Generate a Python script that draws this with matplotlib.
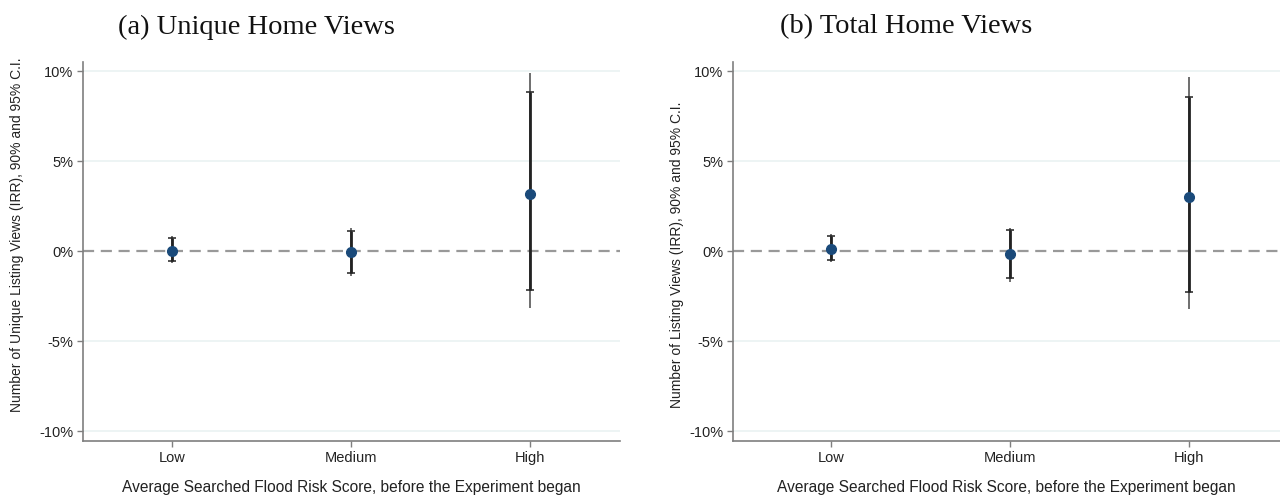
import matplotlib
matplotlib.use("Agg")
import matplotlib.pyplot as plt
import numpy as np

categories = ["Low", "Medium", "High"]

# Panel (a): Unique Home Views (percent)
a_est = [0.0, -0.05, 3.17]
a_lo90 = [-0.55, -1.2, -2.17]
a_hi90 = [0.70, 1.10, 8.82]
a_lo95 = [-0.68, -1.4, -3.17]
a_hi95 = [0.82, 1.30, 9.90]

# Panel (b): Total Home Views (percent)
b_est = [0.10, -0.17, 3.0]
b_lo90 = [-0.50, -1.50, -2.26]
b_hi90 = [0.85, 1.15, 8.54]
b_lo95 = [-0.62, -1.70, -3.22]
b_hi95 = [0.95, 1.30, 9.65]

yticks = [-10, -5, 0, 5, 10]
ytick_labels = ["-10%", "-5%", "0%", "5%", "10%"]

titles = ["(a) Unique Home Views", "(b) Total Home Views"]
ylabels = ["Number of Unique Listing Views (IRR), 90% and 95% C.I.",
           "Number of Listing Views (IRR), 90% and 95% C.I."]
xlabel = "Average Searched Flood Risk Score, before the Experiment began"

plt.rcParams['font.family'] = ['Liberation Sans', 'DejaVu Sans']

W, H = 1280, 498
fig = plt.figure(figsize=(W / 100, H / 100), dpi=100)

def px_axes(x0, x1, y0, y1):
    return fig.add_axes([x0 / W, 1 - y1 / H, (x1 - x0) / W, (y1 - y0) / H])

axes_px = [(83, 620, 62, 441), (733, 1280, 62, 441)]
xlims = [(0.503, 3.503), (0.4525, 3.51)]
data = [(a_est, a_lo90, a_hi90, a_lo95, a_hi95), (b_est, b_lo90, b_hi90, b_lo95, b_hi95)]
title_x = [256, 906]
ylabel_y = [0.545, 0.49]
ylabel_x = [-0.110, -0.090]

grey = "#7f7f7f"
marker_col = "#1a4a7a"
for i in range(2):
    ax = px_axes(*axes_px[i])
    est, lo90, hi90, lo95, hi95 = data[i]
    x = np.arange(1, len(categories) + 1)
    for v in [10, 5, -5, -10]:
        ax.axhline(v, color="#eaf2f2", lw=1.2, zorder=0)
    ax.axhline(0, color="#999999", lw=1.6, ls=(0, (5, 3)), zorder=1)
    est = np.array(est)
    ax.errorbar(x, est, yerr=[est - np.array(lo95), np.array(hi95) - est],
                fmt="none", ecolor="#555555", elinewidth=1.2, capsize=0, zorder=2)
    ax.errorbar(x, est, yerr=[est - np.array(lo90), np.array(hi90) - est],
                fmt="none", ecolor="#222222", elinewidth=2.0, capsize=3, capthick=1.1, zorder=3)
    ax.plot(x, est, "o", color=marker_col, ms=7, zorder=4)
    ax.set_xlim(*xlims[i])
    ax.set_ylim(-10.55, 10.5)
    ax.set_xticks(x)
    ax.set_xticklabels(categories, fontsize=10.5, color="#222222")
    ax.set_yticks(yticks)
    ax.set_yticklabels(ytick_labels, fontsize=10.5, color="#222222")
    for s in ["top", "right"]:
        ax.spines[s].set_visible(False)
    for s in ["left", "bottom"]:
        ax.spines[s].set_color(grey)
        ax.spines[s].set_linewidth(1.2)
    ax.tick_params(colors=grey, length=4, width=1, labelcolor="#222222", pad=3)
    ax.set_ylabel(ylabels[i], fontsize=10, color="#222222")
    ax.yaxis.set_label_coords(ylabel_x[i], ylabel_y[i])
    ax.set_xlabel(xlabel, fontsize=11.2, color="#222222", labelpad=11)
    fig.text(title_x[i] / W, 1 - 27 / H, titles[i], ha="center", va="center",
             fontsize=20.5, family="Liberation Serif", color="#111111")

fig.savefig("out.png", dpi=100)
